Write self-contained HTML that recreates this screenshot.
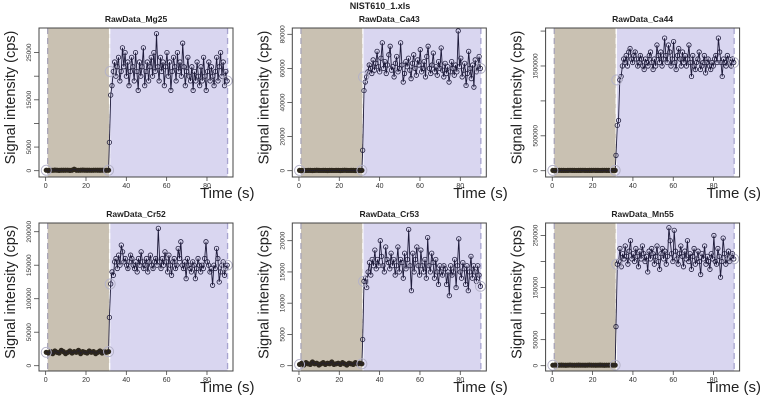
<!DOCTYPE html>
<html><head><meta charset="utf-8">
<style>
body{margin:0;background:#fff;}
svg{display:block;font-family:"Liberation Sans",sans-serif;}
</style></head>
<body>
<svg id="fig" width="760" height="400" viewBox="0 0 760 400">
<text x="380" y="9" text-anchor="middle" font-size="9" font-weight="bold" fill="#222">NIST610_1.xls</text>
</svg>
<script>
// ---- data (values in thousands of cps) ----
const panelTitles = ["RawData_Mg25","RawData_Ca43","RawData_Ca44","RawData_Cr52","RawData_Cr53","RawData_Mn55"];
const yMins = [-1.335,-3.7,-90,-7.9,-0.85,-10.2];
const yMaxs = [30.2,83.7,2044,213,22.83,274];
const yTicksMg25 = [0,5,10,15,20,25];
const yTickLabelsMg25 = ["0","5000","","15000","","25000"];
const yTicksCa43 = [0,20,40,60,80];
const yTickLabelsCa43 = ["0","20000","40000","60000","80000"];
const yTicksCa44 = [0,500,1000,1500,2000];
const yTickLabelsCa44 = ["0","500000","","1500000",""];
const yTicksCr52 = [0,50,100,150,200];
const yTickLabelsCr52 = ["0","50000","100000","150000","200000"];
const yTicksCr53 = [0,5,10,15,20];
const yTickLabelsCr53 = ["0","5000","10000","15000","20000"];
const yTicksMn55 = [0,50,100,150,200,250];
const yTickLabelsMn55 = ["0","50000","","150000","","250000"];
const xTicks = [0,20,40,60,80];
const xTickLabels = ["0","20","40","60","80"];
const bgStart = 0.3, bgEnd = 31.2, sigStart = 31.6, sigEnd = 90;
const bgMg25 = [0.1,0.05,0.1,0.08,0.12,0.1,0.06,0.1,0.09,0.1,0.11,0.07,0.1,0.3,0.1,0.08,0.1,0.12,0.1,0.09,0.1,0.08,0.1,0.11,0.1,0.09,0.1,0.1,0.08,0.1];
const bgCa43 = [0.2,0.1,0.2,0.15,0.2,0.2,0.1,0.2,0.25,0.2,0.15,0.2,0.2,0.1,0.2,0.2,0.15,0.2,0.2,0.1,0.2,0.25,0.2,0.15,0.2,0.2,0.1,0.2,0.2,0.2];
const bgCa44 = [5,4,5,6,5,5,4,5,6,5,5,4,5,5,6,5,4,5,5,6,5,5,4,5,6,5,5,4,5,5];
const bgCr52 = [20,19,21,18,22,20,19,23,21,18,20,22,19,21,20,23,18,21,20,19,22,20,21,18,20,22,19,21,20,21];
const bgCr53 = [0.2,0.4,0.1,0.5,0.3,0.2,0.6,0.3,0.4,0.1,0.3,0.5,0.2,0.4,0.3,0.6,0.2,0.3,0.4,0.2,0.5,0.3,0.1,0.4,0.3,0.2,0.5,0.3,0.4,0.3];
const bgMn55 = [1,1.2,0.9,1,1.1,1,0.8,1,1.2,1,0.9,1,1.1,1,1,0.9,1,1.2,1,1,0.9,1,1.1,1,0.8,1,1,1.2,1,1];
const sigMg25 = [6,16,18,21,23,20,22,24,19,21,26,22,25,20,23,18,21,24,22,19,25,21,17,23,20,22,26,18,21,23,19,22,24,20,25,21,29,22,19,24,21,23,18,22,25,20,23,17,21,24,22,19,25,21,23,20,27,22,18,21,24,20,19,22,17,21,19,23,20,18,22,19,24,20,17,21,23,19,22,20,18,21,24,19,22,25,20,23,18,21,19];
const sigCa43 = [12,47,52,55,58,62,60,57,65,59,63,70,61,58,66,75,60,64,57,62,68,73,59,61,55,63,67,58,60,75,62,52,57,64,61,66,59,54,63,68,60,56,65,62,71,58,60,64,55,67,73,60,57,62,69,58,61,56,64,60,72,59,55,63,57,61,52,58,64,60,56,62,58,82,61,66,55,59,63,50,57,70,60,54,62,49,65,58,61,67,60];
const sigCa44 = [220,650,720,1300,1350,1500,1600,1550,1650,1500,1700,1750,1600,1550,1650,1700,1600,1500,1550,1650,1600,1500,1450,1600,1550,1500,1650,1700,1550,1450,1600,1500,1800,1650,1550,1700,1500,1600,1900,1650,1550,1800,1700,1500,1600,1850,1550,1450,1650,1750,1600,1500,1700,1550,1650,1500,1600,1800,1550,1350,1650,1500,1450,1550,1600,1700,1450,1500,1550,1650,1400,1550,1600,1500,1450,1550,1500,1600,1650,1550,1900,1700,1550,1350,1600,1550,1500,1650,1600,1550,1500,1600,1550];
const sigCr52 = [72,122,140,135,155,160,145,165,150,180,170,155,160,150,145,155,165,160,150,145,155,140,160,150,170,155,145,150,160,140,155,165,150,145,155,160,150,205,155,145,160,150,170,155,140,165,150,135,155,160,145,150,175,160,185,150,145,155,130,160,150,145,140,155,150,130,145,160,150,140,150,145,160,185,155,150,140,145,120,150,145,175,160,125,140,150,155,135,145,150];
const sigCr53 = [4.2,13.5,14,12.5,15,16.5,14.5,17,16,18.5,15.5,17,16,20,17.5,16,15,19,17,16.5,15.5,18,16,17,14.5,16,19,15,17,16.5,14,18,15.5,17,21.8,16,12,18,15,17,19,16,14.5,18.5,16,15,17,14,20.5,16,15,18,16.5,14,17,15,13,16,15,14.5,16,15.5,13,15,11.2,16,14.5,15,17,12.5,16,20.3,15,14,16.5,15.5,13,16,12,15,17.5,14,16,15,13.5,16,14.5,12.7];
const sigMn55 = [75,195,200,225,190,215,205,230,210,195,220,240,205,215,200,225,210,190,220,205,230,215,200,210,180,220,205,225,215,195,210,230,200,185,215,225,205,220,195,210,265,240,215,200,260,220,205,195,215,230,210,190,220,205,240,200,215,185,210,225,195,205,220,200,175,215,205,230,195,210,200,185,215,205,250,200,195,225,210,170,200,245,215,195,205,220,200,210,215,205];

const bgs = [bgMg25,bgCa43,bgCa44,bgCr52,bgCr53,bgMn55];
const sigs = [sigMg25,sigCa43,sigCa44,sigCr52,sigCr53,sigMn55];
const yTicksAll = [yTicksMg25,yTicksCa43,yTicksCa44,yTicksCr52,yTicksCr53,yTicksMn55];
const yLabelsAll = [yTickLabelsMg25,yTickLabelsCa43,yTickLabelsCa44,yTickLabelsCr52,yTickLabelsCr53,yTickLabelsMn55];

const NS = "http://www.w3.org/2000/svg";
const fig = document.getElementById('fig');
function mk(tag, attrs, parent){const e=document.createElementNS(NS,tag);for(const k in attrs)e.setAttribute(k,attrs[k]);(parent||fig).appendChild(e);return e;}

const xMin = -3.3, xMax = 92.9;
for(let p=0;p<6;p++){
  const col=p%3,row=Math.floor(p/3);
  const L=39+col*253.3, R=L+194, T=row?223:28, B=row?371:177;
  const g=mk('g',{});
  
  
  const sx=v=>L+(v-xMin)/(xMax-xMin)*(R-L);
  const sy=v=>B-(v-yMins[p])/(yMaxs[p]-yMins[p])*(B-T);
  const bgR=mk('rect',{x:sx(1),y:T,width:sx(31.5)-sx(1),height:B-T,fill:'#c9c1b2'},g);
  
  
  const sgR=mk('rect',{x:sx(32),y:T,width:sx(90.2)-sx(32),height:B-T,fill:'#d9d6f0'},g);
  
  
  [[1,'#a8a4b8'],[31.7,'#ffffff'],[90.2,'#a8a4d0']].forEach(d=>{
    mk('line',{x1:sx(d[0]),x2:sx(d[0]),y1:T,y2:B,stroke:d[1],'stroke-width':1.3,'stroke-dasharray':'6,4'},g);
  });
  const bg=bgs[p], sg=sigs[p];
  const bgPts=bg.map((v,i)=>[bgStart+i*(bgEnd-bgStart)/(bg.length-1),v]);
  const sgPts=sg.map((v,i)=>[sigStart+i*(sigEnd-sigStart)/(sg.length-1),v]);
  const pts=bgPts.concat(sgPts);
  const toPath=arr=>arr.map((q,i)=>(i?'L':'M')+sx(q[0]).toFixed(1)+','+sy(q[1]).toFixed(1)).join('');
  const band=mk('path',{d:toPath(bgPts),fill:'none',stroke:'#2e281d','stroke-width':4.5,'stroke-linecap':'round','stroke-linejoin':'round'},g);
  
  
  const ln=mk('path',{d:toPath(pts),fill:'none',stroke:'#1e1b3a','stroke-width':0.9},g);
  
  
  pts.forEach((q,i)=>{
    const c=mk('circle',{cx:sx(q[0]),cy:sy(q[1]),r:2.2,fill:'none',stroke:i<bg.length?'#2e281d':'#1e1b3a','stroke-width':0.8},g);
    
    
  });
  const firstSig=sg[sg.length>90?3:1];
  [[bgStart,bg[0]],[bgEnd,bg[bg.length-1]],[32,firstSig],[sigEnd,sg[sg.length-1]]].forEach(q=>{
    mk('circle',{cx:sx(q[0]),cy:sy(q[1]),r:5,fill:'none',stroke:'#b4b2c8','stroke-width':0.9},g);
  });
  const bx=mk('rect',{x:L,y:T,width:R-L,height:B-T,fill:'none',stroke:'#444','stroke-width':1},g);
  
  
  xTicks.forEach((t,i)=>{
    mk('line',{x1:sx(t),x2:sx(t),y1:B,y2:B+4,stroke:'#444','stroke-width':0.8},g);
    const tx=mk('text',{x:sx(t),y:B+11,'text-anchor':'middle','font-size':7,fill:'#333'},g);
    tx.textContent=xTickLabels[i];
    
    
  });
  yTicksAll[p].forEach((t,i)=>{
    mk('line',{x1:L-5,x2:L,y1:sy(t),y2:sy(t),stroke:'#444','stroke-width':0.8},g);
    const lab=yLabelsAll[p][i];
    if(lab){
      const tx=mk('text',{x:L-10,y:sy(t),'text-anchor':'middle','font-size':6.5,fill:'#333',transform:`rotate(-90 ${L-10} ${sy(t)})`,dy:2},g);
      tx.textContent=lab;
      
      
    }
  });
  const tt=mk('text',{x:(L+R)/2,y:T-6,'text-anchor':'middle','font-size':8.5,'font-weight':'bold',fill:'#222'},g);
  tt.textContent=panelTitles[p];
  
  
  const xl=mk('text',{x:L+161,y:B+21,'font-size':15,fill:'#222'},g);
  xl.textContent='Time (s)';
  
  
  const yc=(T+B)/2-5, yx=L-24;
  const yl=mk('text',{x:yx,y:yc,'text-anchor':'middle','font-size':14.5,fill:'#222',transform:`rotate(-90 ${yx} ${yc})`},g);
  yl.textContent='Signal intensity (cps)';
  
  
}
</script>
</body></html>
